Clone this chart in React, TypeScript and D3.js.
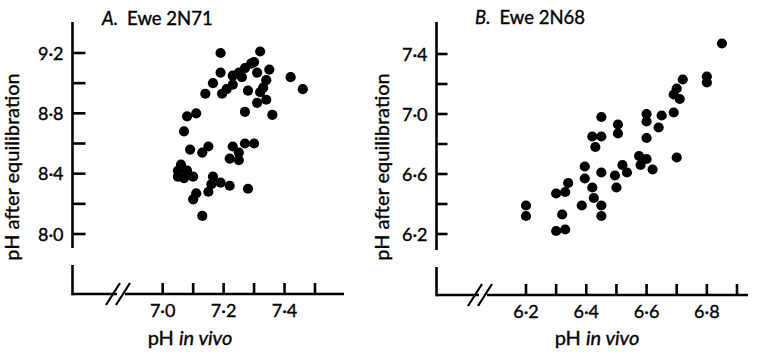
import React from "react";
import * as d3 from "d3";

const aInVivo = [7.19,7.32,7.30,7.27,7.25,7.19,7.23,7.26,7.31,7.35,7.165,7.21,7.23,7.14,7.195,7.28,7.32,7.34,7.33,7.31,7.34,7.42,7.46,7.27,7.36,7.29,7.11,7.08,7.07,7.09,7.13,7.15,7.23,7.27,7.30,7.25,7.22,7.25,7.06,7.05,7.08,7.05,7.10,7.07,7.165,7.19,7.16,7.15,7.22,7.11,7.10,7.13,7.28];
const aEquil = [9.20,9.21,9.14,9.10,9.07,9.07,9.05,9.04,9.07,9.09,9.00,8.96,8.99,8.93,8.93,8.95,8.94,9.02,8.97,8.87,8.89,9.04,8.96,8.81,8.79,9.13,8.80,8.78,8.68,8.56,8.54,8.58,8.58,8.60,8.60,8.54,8.50,8.49,8.46,8.42,8.42,8.38,8.38,8.37,8.38,8.34,8.33,8.28,8.32,8.27,8.23,8.12,8.30];
const bInVivo = [6.85,6.72,6.80,6.80,6.70,6.69,6.71,6.69,6.65,6.60,6.60,6.64,6.60,6.45,6.505,6.505,6.42,6.45,6.43,6.70,6.575,6.60,6.58,6.62,6.52,6.535,6.495,6.45,6.395,6.395,6.50,6.42,6.425,6.45,6.45,6.385,6.34,6.33,6.30,6.32,6.30,6.33,6.20,6.20];
const bEquil = [7.47,7.23,7.25,7.21,7.17,7.13,7.10,7.01,6.99,7.00,6.95,6.91,6.84,6.98,6.93,6.87,6.85,6.85,6.78,6.71,6.72,6.70,6.66,6.63,6.66,6.61,6.59,6.61,6.65,6.57,6.51,6.51,6.44,6.39,6.32,6.39,6.54,6.48,6.47,6.33,6.22,6.23,6.39,6.32];

const aXTicks = [7.0, 7.1, 7.2, 7.3, 7.4, 7.5];
const aYTicks = [8.0, 8.2, 8.4, 8.6, 8.8, 9.0, 9.2];
const bXTicks = [6.2, 6.3, 6.4, 6.5, 6.6, 6.7, 6.8, 6.9];
const bYTicks = [6.2, 6.4, 6.6, 6.8, 7.0, 7.2, 7.4];
const aXLabels = [7.0, 7.2, 7.4];
const aYLabels = [8.0, 8.4, 8.8, 9.2];
const bXLabels = [6.2, 6.4, 6.6, 6.8];
const bYLabels = [6.2, 6.6, 7.0, 7.4];

const FONT = "Lato, 'Open Sans', sans-serif";
const fmt = (v: number) => v.toFixed(1).replace(".", "\u00b7");

type PanelProps = {
  letter: string;
  name: string;
  xs: number[];
  ys: number[];
  x: d3.ScaleLinear<number, number>;
  y: d3.ScaleLinear<number, number>;
  xTicks: number[];
  yTicks: number[];
  xLabels: number[];
  yLabels: number[];
  axisX: number;
  axisY: number;
  axisTop: number;
  breakY: number;
  lowerStart: number;
  xEnd: number;
  slashX: number;
  titleX: number;
  titleY: number;
  yLabelX: number;
  xLabelX: number;
  tickLen: number;
};

function Panel(p: PanelProps) {
  const sw = 2.6;
  const ts = { stroke: "#000", strokeWidth: 0.35 };
  return (
    <g>
      <text x={p.titleX} y={p.titleY} fontFamily={FONT} fontSize={18.5} fill="#000" {...ts}>
        <tspan fontStyle="italic">{p.letter}.</tspan>
        <tspan dx={9}>{p.name}</tspan>
      </text>
      <line x1={p.axisX} x2={p.axisX} y1={p.axisTop} y2={p.breakY} stroke="#000" strokeWidth={sw} />
      <line x1={p.axisX} x2={p.axisX} y1={p.lowerStart} y2={p.axisY + sw / 2} stroke="#000" strokeWidth={sw} />
      {p.yTicks.map((t) => (
        <line key={"yt" + t} x1={p.axisX} x2={p.axisX + p.tickLen} y1={p.y(t)} y2={p.y(t)} stroke="#000" strokeWidth={sw} />
      ))}
      {p.yLabels.map((t) => (
        <text key={"yl" + t} x={p.axisX - 9} y={p.y(t) + 6.5} textAnchor="end" fontFamily={FONT} fontSize={18} fill="#000" {...ts}>
          {fmt(t)}
        </text>
      ))}
      <line x1={p.axisX} x2={p.slashX + 4} y1={p.axisY} y2={p.axisY} stroke="#000" strokeWidth={sw} />
      <line x1={p.slashX + 12} x2={p.xEnd} y1={p.axisY} y2={p.axisY} stroke="#000" strokeWidth={sw} />
      <line x1={p.slashX - 7} y1={p.axisY + 11} x2={p.slashX + 7} y2={p.axisY - 11} stroke="#000" strokeWidth={2.2} />
      <line x1={p.slashX + 3} y1={p.axisY + 11} x2={p.slashX + 17} y2={p.axisY - 11} stroke="#000" strokeWidth={2.2} />
      {p.xTicks.map((t) => (
        <line key={"xt" + t} x1={p.x(t)} x2={p.x(t)} y1={p.axisY} y2={p.axisY - 11} stroke="#000" strokeWidth={sw} />
      ))}
      {p.xLabels.map((t) => (
        <text key={"xl" + t} x={p.x(t)} y={p.axisY + 23} textAnchor="middle" fontFamily={FONT} fontSize={18} fill="#000" {...ts}>
          {fmt(t)}
        </text>
      ))}
      <text x={p.xLabelX} y={345} textAnchor="middle" fontFamily={FONT} fontSize={20} fill="#000" {...ts}>
        pH <tspan fontStyle="italic">in vivo</tspan>
      </text>
      <text
        transform={`translate(${p.yLabelX},167) rotate(-90)`}
        textAnchor="middle"
        fontFamily={FONT}
        fontSize={20}
        fill="#000"
        {...ts}
      >
        pH after equilibration
      </text>
      {p.xs.map((v, i) => (
        <circle key={"c" + i} cx={p.x(v)} cy={p.y(p.ys[i])} r={5.1} fill="#000" />
      ))}
    </g>
  );
}

export default function App() {
  const ax = d3.scaleLinear().domain([7.0, 7.5]).range([162.7, 315]);
  const ay = d3.scaleLinear().domain([8.0, 9.2]).range([234, 53]);
  const bx = d3.scaleLinear().domain([6.2, 6.9]).range([526, 737]);
  const by = d3.scaleLinear().domain([6.2, 7.4]).range([234, 54]);
  return (
    <svg width={766} height={353} style={{ position: "absolute", left: 0, top: 0, background: "#fff" }}>
      <rect width={766} height={353} fill="#fff" />
      <Panel
        letter="A" name="Ewe 2N71" xs={aInVivo} ys={aEquil} x={ax} y={ay}
        xTicks={aXTicks} yTicks={aYTicks} xLabels={aXLabels} yLabels={aYLabels}
        axisX={72.5} axisY={294} axisTop={22} breakY={248} lowerStart={265} xEnd={344}
        slashX={113} titleX={102} titleY={25} yLabelX={19} xLabelX={190} tickLen={13}
      />
      <Panel
        letter="B" name="Ewe 2N68" xs={bInVivo} ys={bEquil} x={bx} y={by}
        xTicks={bXTicks} yTicks={bYTicks} xLabels={bXLabels} yLabels={bYLabels}
        axisX={436.5} axisY={295} axisTop={22} breakY={250} lowerStart={267} xEnd={748}
        slashX={475} titleX={475} titleY={24} yLabelX={389} xLabelX={597} tickLen={11}
      />
    </svg>
  );
}
